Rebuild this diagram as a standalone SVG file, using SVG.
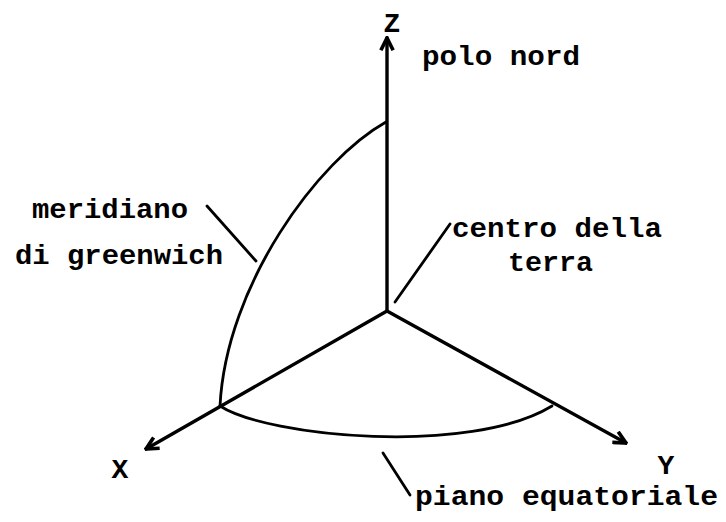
<svg xmlns="http://www.w3.org/2000/svg" width="726" height="522" viewBox="0 0 726 522">
<defs>
<style>
.ax{stroke:#000;stroke-width:3.4;fill:none;stroke-linecap:round}
.ln{stroke:#000;stroke-width:2.8;fill:none;stroke-linecap:round}
.t{font-family:"Liberation Mono","DejaVu Sans Mono",monospace;font-weight:bold;font-size:28px;fill:#000}
</style>
<marker id="ah" viewBox="0 0 10 10" refX="9" refY="5" markerWidth="4.5" markerHeight="4.5" orient="auto" markerUnits="strokeWidth">
<path d="M1,1 L9,5 L1,9" fill="none" stroke="#000" stroke-width="2.4"/>
</marker>
</defs>
<rect width="726" height="522" fill="#fff"/>
<g id="connectors">
<line id="axisZ" class="ax" x1="387" y1="311" x2="387" y2="38" marker-end="url(#ah)"/>
<line id="axisX" class="ax" x1="387" y1="311" x2="146" y2="449" marker-end="url(#ah)"/>
<line id="axisY" class="ax" x1="387" y1="311" x2="626" y2="443" marker-end="url(#ah)"/>
<path id="meridian" class="ln" d="M386,122 C318,160 226,285 220,406"/>
<path id="equator" class="ln" d="M220,406 C268,437 470,456 552,406"/>
<line class="ln" x1="207" y1="206" x2="256" y2="261"/>
<line class="ln" x1="395" y1="302" x2="450" y2="224"/>
<line class="ln" x1="383" y1="453" x2="410" y2="495"/>
</g>
<g id="labelZ"><text class="t" x="392" y="32" text-anchor="middle">Z</text></g>
<g id="labelX"><text class="t" x="120" y="478" text-anchor="middle">X</text></g>
<g id="labelY"><text class="t" x="666" y="474" text-anchor="middle">Y</text></g>
<g id="polo"><text class="t" x="422" y="65" textLength="158" lengthAdjust="spacingAndGlyphs">polo nord</text></g>
<g id="meridiano">
<text class="t" x="32" y="218" textLength="156" lengthAdjust="spacingAndGlyphs">meridiano</text>
<text class="t" x="15" y="264" textLength="208" lengthAdjust="spacingAndGlyphs">di greenwich</text>
</g>
<g id="centro">
<text class="t" x="452" y="237" textLength="210" lengthAdjust="spacingAndGlyphs">centro della</text>
<text class="t" x="508" y="271" textLength="85" lengthAdjust="spacingAndGlyphs">terra</text>
</g>
<g id="piano"><text class="t" x="415" y="505" textLength="303" lengthAdjust="spacingAndGlyphs">piano equatoriale</text></g>
</svg>
